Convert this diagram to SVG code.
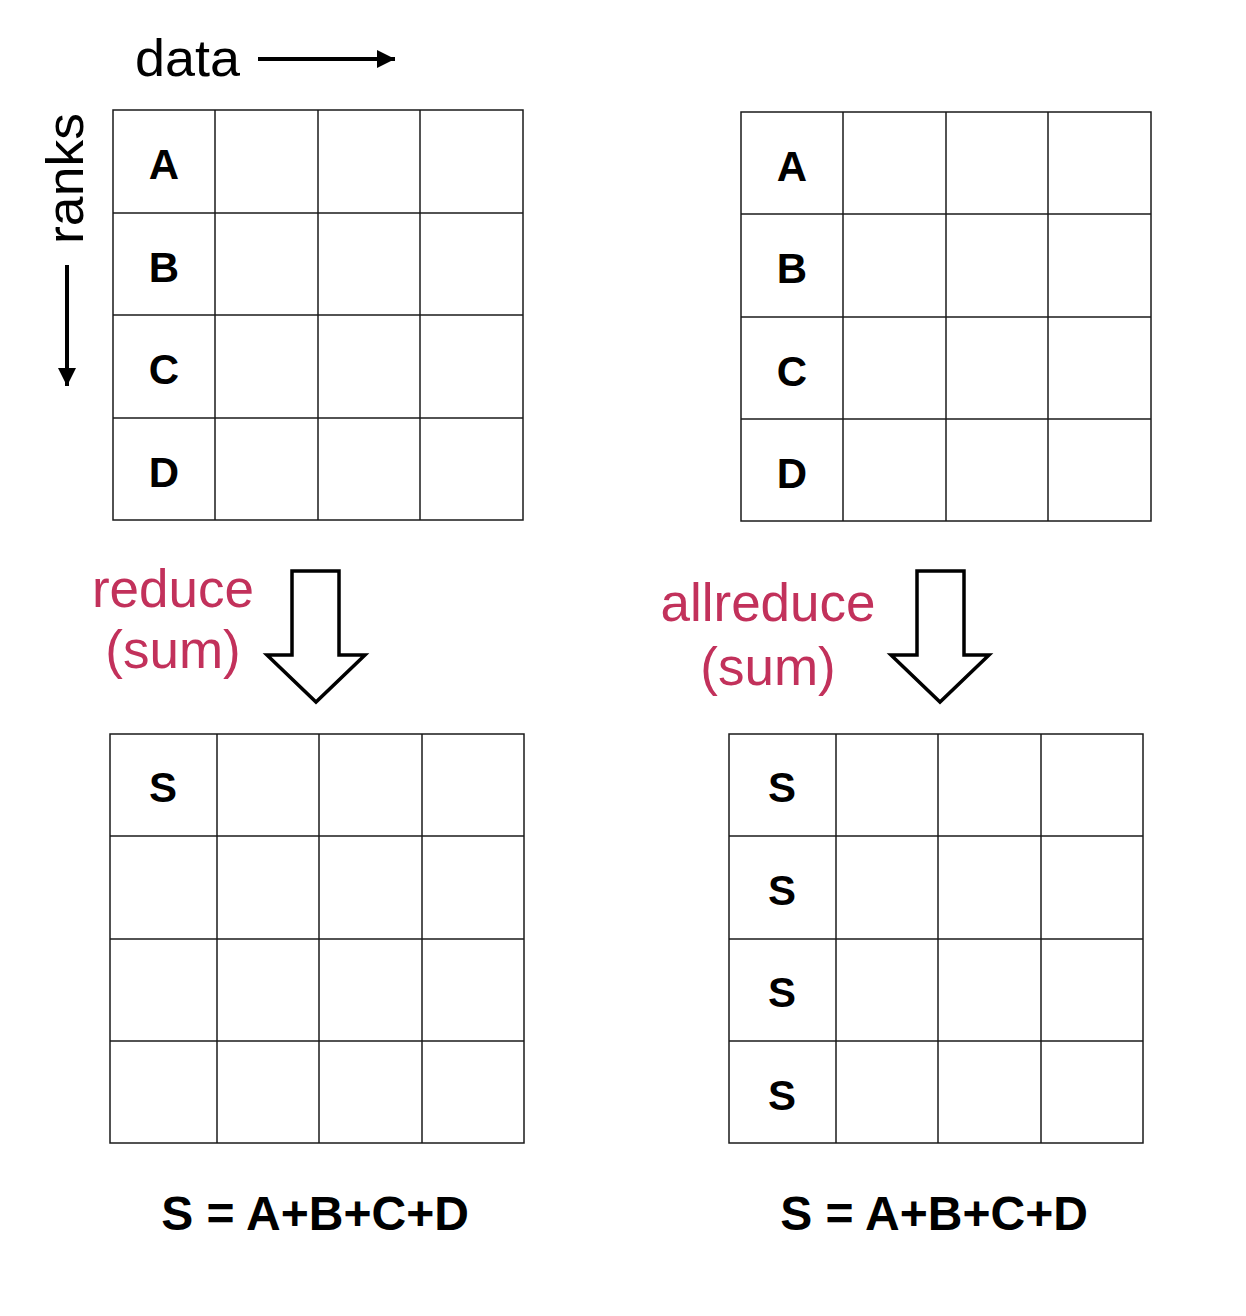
<svg xmlns="http://www.w3.org/2000/svg" width="1246" height="1316" viewBox="0 0 1246 1316">
<style>
.grid line{stroke:#1a1a1a;stroke-width:1.5}
.grid rect{fill:none;stroke:#1a1a1a;stroke-width:1.5}
.lbl{font-family:"Liberation Sans",Arial,sans-serif;font-weight:bold;font-size:42px;fill:#000;text-anchor:middle}
.axis{font-family:"Liberation Sans",Arial,sans-serif;font-size:52px;fill:#000}
.op{font-family:"Liberation Sans",Arial,sans-serif;font-size:53px;fill:#C2315B;text-anchor:middle}
.eq{font-family:"Liberation Sans",Arial,sans-serif;font-weight:bold;font-size:48px;fill:#000;text-anchor:middle}
.block{fill:#fff;stroke:#000;stroke-width:3.5;stroke-linejoin:miter}
</style>
<defs>
<marker id="ah" viewBox="0 0 10 10" refX="10" refY="5" markerWidth="4.5" markerHeight="4.5" orient="auto" markerUnits="strokeWidth">
<path d="M0,0 L10,5 L0,10 z" fill="#000"/>
</marker>
</defs>
<rect width="1246" height="1316" fill="#fff"/>

<g id="axis-labels">
<text class="axis" x="135" y="76" textLength="105" lengthAdjust="spacingAndGlyphs">data</text>
<text class="axis" transform="translate(83,244) rotate(-90)" textLength="131" lengthAdjust="spacingAndGlyphs">ranks</text>
</g>

<g id="connectors">
<line x1="258" y1="59" x2="395" y2="59" stroke="#000" stroke-width="4" marker-end="url(#ah)"/>
<line x1="67" y1="265" x2="67" y2="386" stroke="#000" stroke-width="4" marker-end="url(#ah)"/>
<path id="arrow-reduce" class="block" d="M292,571 L339,571 L339,655 L365,655 L316,702 L267,655 L292,655 Z"/>
<path id="arrow-allreduce" class="block" d="M917,571 L964,571 L964,655 L989,655 L940,702 L891,655 L917,655 Z"/>
</g>

<g id="grid-input-reduce" class="grid">
<rect x="113" y="110" width="410" height="410"/>
<line x1="215" y1="110" x2="215" y2="520"/>
<line x1="318" y1="110" x2="318" y2="520"/>
<line x1="420" y1="110" x2="420" y2="520"/>
<line x1="113" y1="213" x2="523" y2="213"/>
<line x1="113" y1="315" x2="523" y2="315"/>
<line x1="113" y1="418" x2="523" y2="418"/>
<text class="lbl" x="164" y="179">A</text>
<text class="lbl" x="164" y="282">B</text>
<text class="lbl" x="164" y="384">C</text>
<text class="lbl" x="164" y="487">D</text>
</g>

<g id="grid-input-allreduce" class="grid">
<rect x="741" y="112" width="410" height="409"/>
<line x1="843" y1="112" x2="843" y2="521"/>
<line x1="946" y1="112" x2="946" y2="521"/>
<line x1="1048" y1="112" x2="1048" y2="521"/>
<line x1="741" y1="214" x2="1151" y2="214"/>
<line x1="741" y1="317" x2="1151" y2="317"/>
<line x1="741" y1="419" x2="1151" y2="419"/>
<text class="lbl" x="792" y="181">A</text>
<text class="lbl" x="792" y="283">B</text>
<text class="lbl" x="792" y="386">C</text>
<text class="lbl" x="792" y="488">D</text>
</g>

<g id="label-reduce">
<text class="op" x="173" y="607">reduce</text>
<text class="op" x="173" y="668">(sum)</text>
</g>
<g id="label-allreduce">
<text class="op" x="768" y="621">allreduce</text>
<text class="op" x="768" y="685">(sum)</text>
</g>

<g id="grid-output-reduce" class="grid">
<rect x="110" y="734" width="414" height="409"/>
<line x1="217" y1="734" x2="217" y2="1143"/>
<line x1="319" y1="734" x2="319" y2="1143"/>
<line x1="422" y1="734" x2="422" y2="1143"/>
<line x1="110" y1="836" x2="524" y2="836"/>
<line x1="110" y1="939" x2="524" y2="939"/>
<line x1="110" y1="1041" x2="524" y2="1041"/>
<text class="lbl" x="163" y="802">S</text>
</g>

<g id="grid-output-allreduce" class="grid">
<rect x="729" y="734" width="414" height="409"/>
<line x1="836" y1="734" x2="836" y2="1143"/>
<line x1="938" y1="734" x2="938" y2="1143"/>
<line x1="1041" y1="734" x2="1041" y2="1143"/>
<line x1="729" y1="836" x2="1143" y2="836"/>
<line x1="729" y1="939" x2="1143" y2="939"/>
<line x1="729" y1="1041" x2="1143" y2="1041"/>
<text class="lbl" x="782" y="802">S</text>
<text class="lbl" x="782" y="905">S</text>
<text class="lbl" x="782" y="1007">S</text>
<text class="lbl" x="782" y="1110">S</text>
</g>

<g id="formulas">
<text class="eq" x="315" y="1230">S = A+B+C+D</text>
<text class="eq" x="934" y="1230">S = A+B+C+D</text>
</g>
</svg>
